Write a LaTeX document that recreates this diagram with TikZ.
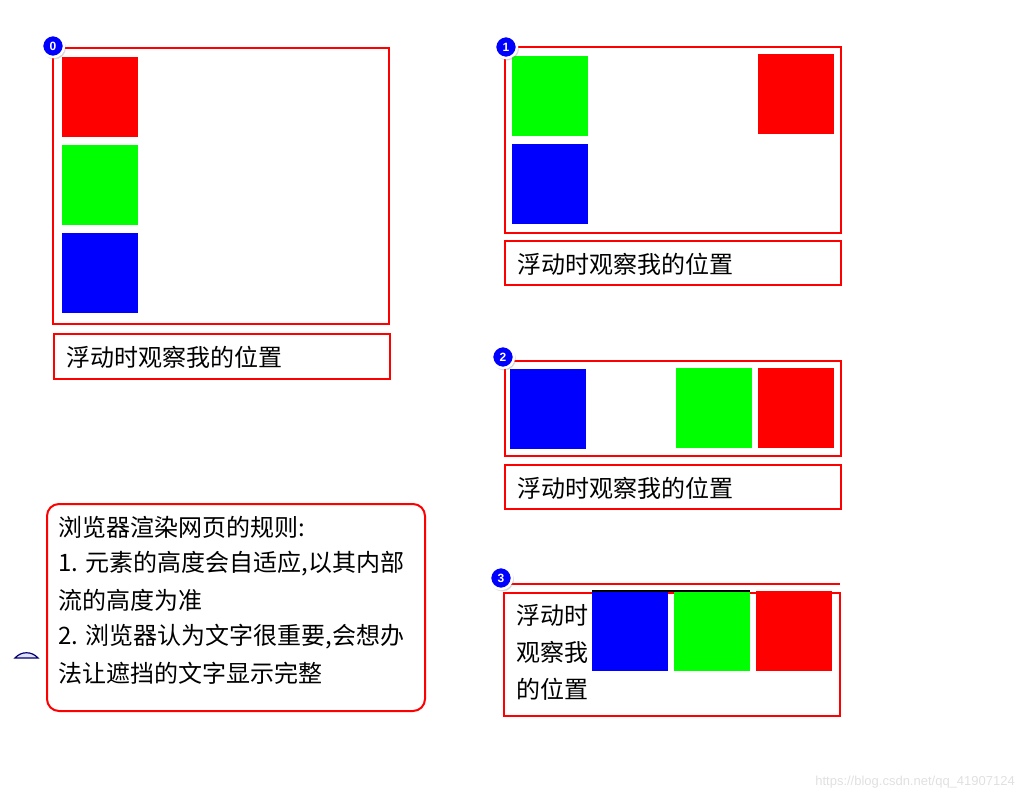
\documentclass[tikz,border=0pt]{standalone}
\usepackage{fontspec}
\newfontfamily\cjk{Noto Sans CJK SC}
\setsansfont{Liberation Sans}
\usetikzlibrary{shadows}

\tikzset{
    box/.style={draw=red, line width=2pt},
    blk/.style={minimum width=76pt, minimum height=80pt, inner sep=0pt, anchor=north west},
    badge/.style={circle, fill=blue, draw=white, line width=2.5pt, minimum size=22pt, inner sep=0pt,
        text=white, font=\sffamily\bfseries\fontsize{12pt}{12pt}\selectfont,
        circular drop shadow={opacity=0.35, shadow xshift=1pt, shadow yshift=-1.5pt}},
    txt/.style={anchor=west, inner sep=0pt, font=\cjk\fontsize{24pt}{28pt}\selectfont}
}

\begin{document}
\begin{tikzpicture}[x=1pt, y=-1pt]
    \useasboundingbox (0,0) rectangle (1024,801);

    % panel 0
    \draw[box] (53,48) rectangle (389,324);
    \node[blk, fill=red] (r0) at (62,57) {};
    \node[blk, fill=green] (g0) at (62,145) {};
    \node[blk, fill=blue] (b0) at (62,233) {};
    \draw[box] (54,334) rectangle (390,379);
    \node[txt] (cap0) at (66,357) {浮动时观察我的位置};
    \node[badge] (n0) at (53,46) {0};

    % panel 1
    \draw[box] (505,47) rectangle (841,233);
    \node[blk, fill=green] (g1) at (512,56) {};
    \node[blk, fill=blue] (b1) at (512,144) {};
    \node[blk, fill=red] (r1) at (758,54) {};
    \draw[box] (505,241) rectangle (841,285);
    \node[txt] (cap1) at (517,264) {浮动时观察我的位置};
    \node[badge] (n1) at (506,47) {1};

    % panel 2
    \draw[box] (505,361) rectangle (841,456);
    \node[blk, fill=blue] (b2) at (510,369) {};
    \node[blk, fill=green] (g2) at (676,368) {};
    \node[blk, fill=red] (r2) at (758,368) {};
    \draw[box] (505,465) rectangle (841,509);
    \node[txt] (cap2) at (517,488) {浮动时观察我的位置};
    \node[badge] (n2) at (503,357) {2};

    % panel 3
    \draw[box] (510,584) -- (840,584);
    \draw[box] (504,593) rectangle (840,716);
    \node[blk, fill=blue] (b3) at (592,591) {};
    \node[blk, fill=green] (g3) at (674,591) {};
    \node[blk, fill=red] (r3) at (756,591) {};
    \draw[line width=1.5pt] (b3.north west) -- (g3.north east);
    \foreach \t [count=\i] in {浮动时,观察我,的位置}
        \node[txt] (cap3\i) at (516,578+37*\i) {\t};
    \node[badge] (n3) at (501,578) {3};

    % rules
    \draw[box, rounded corners=12pt] (47,504) rectangle (425,711);
    \foreach \t [count=\i] in {浏览器渲染网页的规则:,
                               1. 元素的高度会自适应{,}以其内部,
                               流的高度为准,
                               2. 浏览器认为文字很重要{,}会想办,
                               法让遮挡的文字显示完整}
        \node[txt] (rule\i) at (58,491+36.5*\i) {\t};

    \draw[draw=blue!45!black, fill=blue!12, line width=1.2pt]
        (15,658) .. controls (21,651) and (32,651) .. (38,658) -- cycle;

    \node[anchor=east, inner sep=0pt, text=black!12, font=\sffamily\fontsize{13pt}{13pt}\selectfont]
        (mark) at (1015,782) {https://blog.csdn.net/qq\_41907124};
\end{tikzpicture}
\end{document}
